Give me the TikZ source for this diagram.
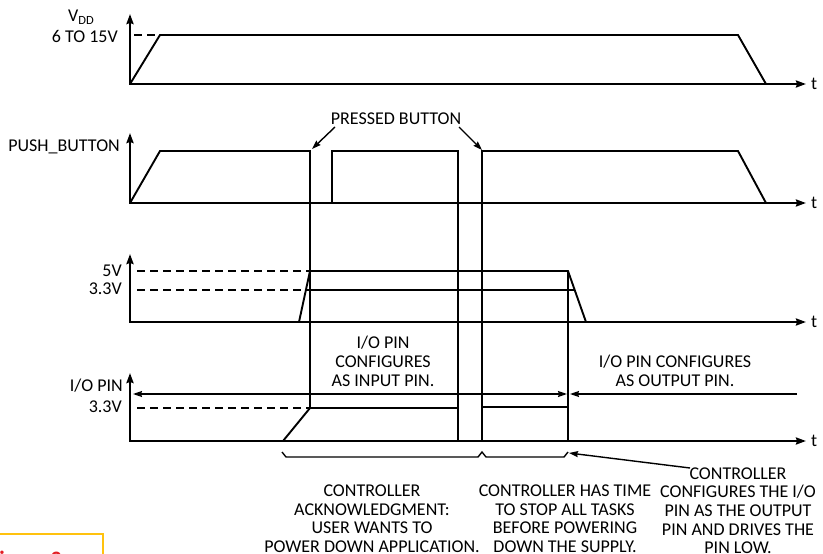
\documentclass[tikz,border=0pt]{standalone}
\usepackage{fontspec}
\setmainfont{Carlito}
\usetikzlibrary{arrows.meta}
\definecolor{figred}{HTML}{E31E24}
\definecolor{figyellow}{HTML}{FFC20E}
\begin{document}
\begin{tikzpicture}[x=1pt,y=-1pt,
  wave/.style={line width=1.9pt, line join=miter},
  axis/.style={line width=2.2pt, -{Stealth[length=10pt,width=7pt,inset=1pt]}},
  guide/.style={line width=1.4pt},
  dashguide/.style={line width=1.6pt, dash pattern=on 8pt off 5pt},
  lbl/.style={font=\fontsize{18}{18.7}\selectfont, inner sep=0pt, align=center},
  tip/.style={-{Stealth[length=9pt,width=6pt,inset=1pt]}},
  tips/.style={{Stealth[length=9pt,width=6pt,inset=1pt]}-{Stealth[length=9pt,width=6pt,inset=1pt]}}
]
\useasboundingbox (0,0) rectangle (823,554);
\begin{scope}
\clip (0,0) rectangle (823,554);

% ---------- Panel 1: VDD ----------
\draw[axis] (130,84) -- (130,14);
\draw[axis] (129,84) -- (806,84);
\draw[dashguide] (134,35) -- (160,35);
\draw[wave] (130,84) -- (160,35) -- (738,35) -- (766,84);
\node[lbl, anchor=base east] (vdd) at (94,21.7) {V\raisebox{-0.35ex}{\fontsize{12.5}{12.5}\selectfont DD}};
\node[lbl, anchor=base east] (vrange) at (118,42) {6 TO 15V};
\node[lbl, anchor=base west] (t1) at (811,89.3) {t};

% ---------- Panel 2: PUSH_BUTTON ----------
\draw[axis] (130,203) -- (130,133);
\draw[axis] (129,203) -- (806,203);
\draw[wave] (130,203) -- (160,151) -- (310,151) -- (310,408);
\draw[wave] (332,203) -- (332,151) -- (458,151) -- (458,441);
\draw[wave] (482,441) -- (482,151) -- (738,151) -- (766,203);
\node[lbl, anchor=base east] (pbl) at (120,151.5) {PUSH\_BUTTON};
\node[lbl, anchor=base west] (t2) at (811,208.5) {t};
\node[lbl, anchor=base] (pressed) at (396,124.3) {PRESSED BUTTON};
\coordinate (pressL) at (335,127);
\coordinate (pressR) at (459,127);
\coordinate (edgeL) at (312,149);
\coordinate (edgeR) at (482,150);
\draw[guide, tip] (pressL) -- (edgeL);
\draw[guide, tip] (pressR) -- (edgeR);

% ---------- Panel 3: 5V / 3.3V ----------
\draw[axis] (130,322) -- (130,254);
\draw[axis] (129,322) -- (806,322);
\draw[dashguide] (137,271) -- (310,271);
\draw[dashguide] (137,290) -- (310,290);
\draw[wave] (299,322) -- (310,271) -- (568,271) -- (586,322);
\draw[wave] (568,271) -- (568,441);
\draw[guide] (310,290) -- (574.7,290);
\node[lbl, anchor=base east] (v5) at (122,276.7) {5V};
\node[lbl, anchor=base east] (v33a) at (122,294.3) {3.3V};
\node[lbl, anchor=base west] (t3) at (811,327.5) {t};

% ---------- Panel 4: I/O PIN ----------
\draw[axis] (130,441) -- (130,373);
\draw[axis] (129,441) -- (806,441);
\draw[dashguide] (137,408) -- (310,408);
\draw[wave] (283,441) -- (310,408) -- (458,408);
\draw[wave] (482,407) -- (568,407);
\draw[guide, tips] (133,394) -- (567,394);
\coordinate (outEnd) at (797,394);
\coordinate (outTip) at (570,394);
\draw[guide, tip] (outEnd) -- (outTip);
\node[lbl, anchor=base east] (iopin) at (123,391) {I/O PIN};
\node[lbl, anchor=base east] (v33b) at (122,412.3) {3.3V};
\node[lbl, anchor=base west] (t4) at (811,446.5) {t};
\node[lbl, anchor=base] (inpin) at (383,386) {I/O PIN\\CONFIGURES\\AS INPUT PIN.};
\node[lbl, anchor=base] (outpin) at (675,386) {I/O PIN CONFIGURES\\AS OUTPUT PIN.};

% ---------- Braces ----------
\draw[guide] (282,452) -- (286,457) -- (478,457) -- (482,452) -- (486,457) -- (564,457) -- (568,452);

% ---------- Bottom notes ----------
\node[lbl, anchor=base] (ack) at (372,552.4) {CONTROLLER\\ACKNOWLEDGMENT:\\USER WANTS TO\\POWER DOWN APPLICATION.};
\node[lbl, anchor=base] (stop) at (565,552.4) {CONTROLLER HAS TIME\\TO STOP ALL TASKS\\BEFORE POWERING\\DOWN THE SUPPLY.};
\node[lbl, anchor=base] (drive) at (738,553.8) {CONTROLLER\\CONFIGURES THE I/O\\PIN AS THE OUTPUT\\PIN AND DRIVES THE\\PIN LOW.};
\coordinate (driveFrom) at (690,468);
\coordinate (driveTo) at (569,453);
\draw[guide, tip] (driveFrom) -- (driveTo);

% ---------- Figure tag ----------
\draw[figyellow, line width=2pt] (-5,534) -- (103,534) -- (103,570);
\node[font=\fontsize{22}{22}\bfseries\selectfont, text=figred, anchor=base east, inner sep=0pt] (fig) at (62,566) {Figure 2};
\end{scope}
\end{tikzpicture}
\end{document}
